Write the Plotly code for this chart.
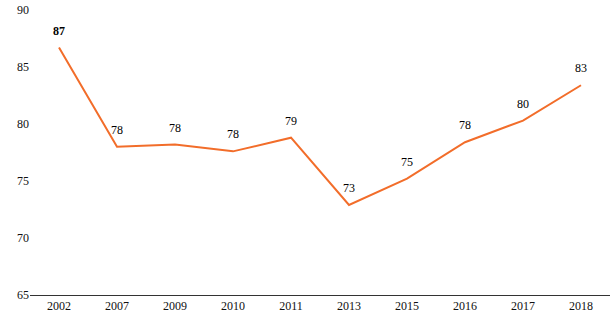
import plotly.graph_objects as go

years = ["2002", "2007", "2009", "2010", "2011", "2013", "2015", "2016", "2017", "2018"]
values = [86.7, 78.0, 78.2, 77.6, 78.8, 72.9, 75.2, 78.4, 80.3, 83.4]
labels = ["87", "78", "78", "78", "79", "73", "75", "78", "80", "83"]
y_ticks = [65, 70, 75, 80, 85, 90]

line_color = "#F26D2A"
font_family = "Liberation Serif"

fig = go.Figure()
fig.add_trace(go.Scatter(
    x=years, y=values, mode="lines",
    line=dict(color=line_color, width=2),
    hoverinfo="skip", showlegend=False,
))

for i, (v, lab) in enumerate(zip(values, labels)):
    txt = f"<b>{lab}</b>" if i == 0 else lab
    fig.add_annotation(
        x=i, y=v, xref="x", yref="y", text=txt, showarrow=False,
        yshift=17, font=dict(family=font_family, size=12, color="#000"),
    )

fig.update_layout(
    width=612, height=320,
    margin=dict(l=30, r=2, t=10, b=25),
    paper_bgcolor="white", plot_bgcolor="white",
    font=dict(family=font_family, size=12, color="#111"),
    xaxis=dict(
        type="category", showgrid=False, zeroline=False,
        showline=True, linecolor="#333", linewidth=1,
        ticks="", tickfont=dict(size=12, color="#111"),
        range=[-0.5, len(years) - 0.5],
    ),
    yaxis=dict(
        range=[65, 90], tickvals=y_ticks, showgrid=False, zeroline=False,
        showline=False, ticks="", tickfont=dict(size=12, color="#111"),
    ),
)

fig.write_html(
    "out.html",
    config={"displayModeBar": False, "staticPlot": True},
    post_script="document.body.style.margin='0';",
)
